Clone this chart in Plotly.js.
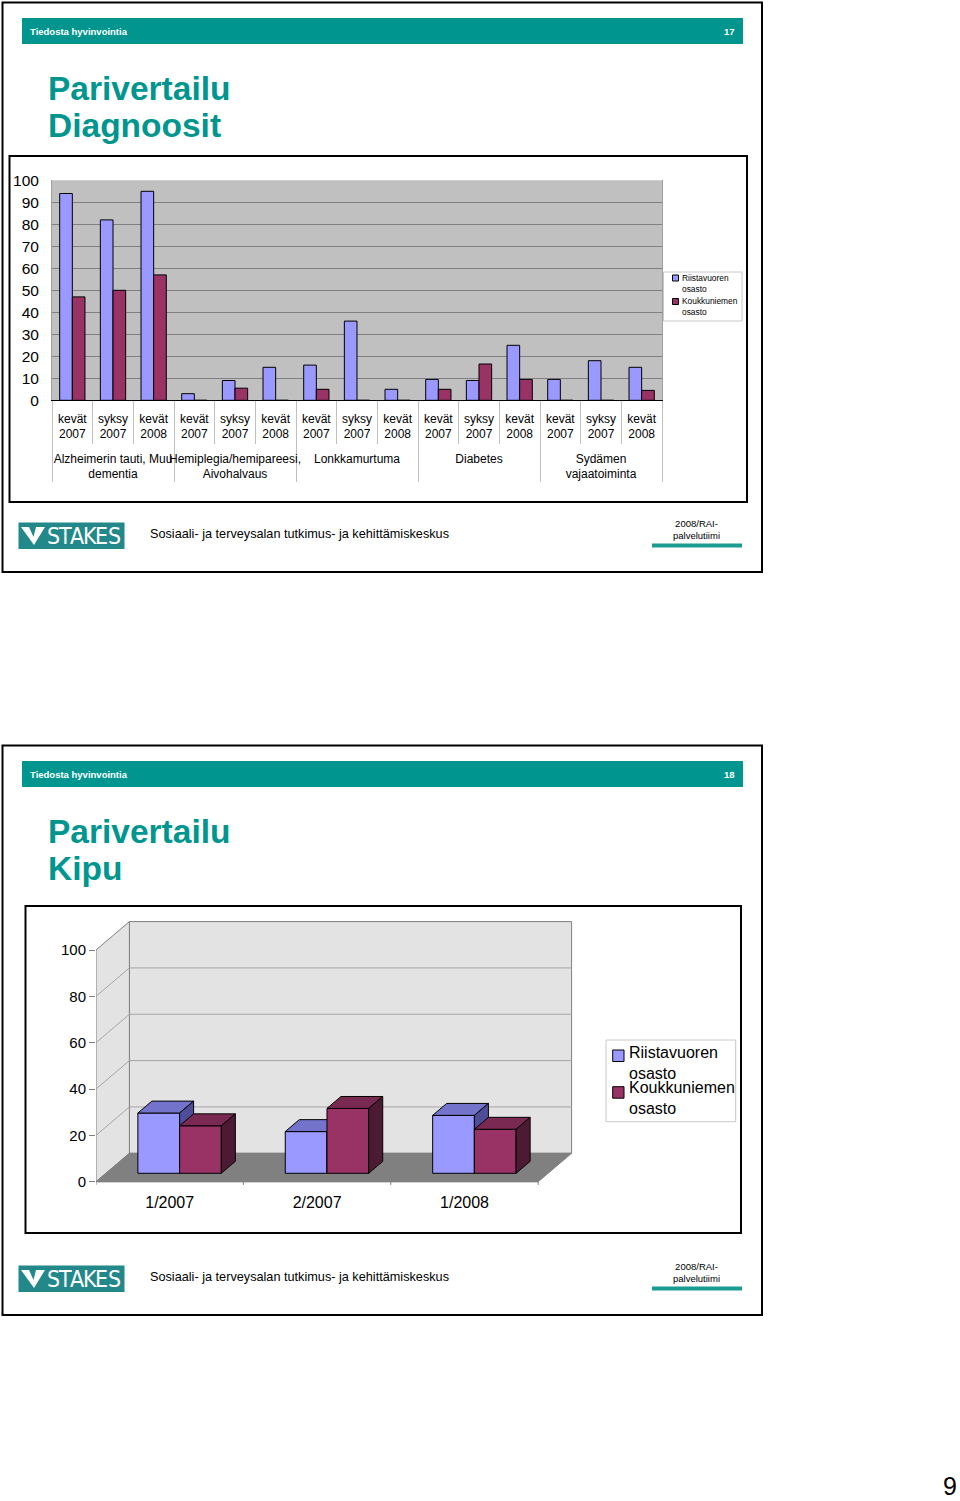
<!DOCTYPE html>
<html><head><meta charset="utf-8">
<script src="https://cdn.plot.ly/plotly-3.0.1.min.js"></script>
<style>html,body{margin:0;padding:0;background:#fff}#chart{width:960px;height:1501px}</style>
</head><body><div id="chart"></div>
<script>
// ---------- data ----------
const diagnoses = ["Alzheimerin tauti, Muu<br>dementia", "Hemiplegia/hemipareesi,<br>Aivohalvaus", "Lonkkamurtuma", "Diabetes", "Sydämen<br>vajaatoiminta"];
const periods = ["kevät<br>2007", "syksy<br>2007", "kevät<br>2008"];
const riistavuoriDiag = [94, 82, 95, 3, 9, 15, 16, 36, 5, 9.5, 9, 25, 9.5, 18, 15];
const koukkuniemiDiag = [47, 50, 57, 0, 5.5, 0, 5, 0, 0, 5, 16.5, 9.5, 0, 0, 4.5];
const painPeriods = ["1/2007", "2/2007", "1/2008"];
const riistavuoriPain = [26, 18, 25];
const koukkuniemiPain = [20.5, 28, 19];
const seriesNames = ["Riistavuoren osasto", "Koukkuniemen osasto"];
const legendLabels = ["Riistavuoren<br>osasto", "Koukkuniemen<br>osasto"];
const yTicksPain = [0, 20, 40, 60, 80, 100];
const slideTitles = ["Diagnoosit", "Kipu"];
const slideNumbers = ["17", "18"];

// ---------- style ----------
const W = 960, H = 1501;
const FONT = '"Liberation Sans", Arial, Helvetica, sans-serif';
const TEAL = '#00968f';
const BLUE = '#9999ff', RED = '#993366';
const BLUE_TOP = '#7373cc', BLUE_SIDE = '#4d4d99', RED_TOP = '#7a2952', RED_SIDE = '#4d1a33';
const px = x => x / W, py = y => 1 - y / H;

const shapes = [], annotations = [];
function rect(x0, y0, x1, y1, fill, line, lw, layer) {
  shapes.push({type: 'rect', xref: 'paper', yref: 'paper', x0: px(x0), x1: px(x1), y0: py(y1), y1: py(y0),
    fillcolor: fill || 'rgba(0,0,0,0)', line: {color: line || 'rgba(0,0,0,0)', width: lw || 0}, layer: layer || 'below'});
}
function txt(x, y, text, size, o) {
  o = o || {};
  annotations.push({xref: 'paper', yref: 'paper', x: px(x), y: py(y), text: text, showarrow: false,
    xanchor: o.xanchor || 'left', yanchor: 'middle', align: o.align || 'left',
    font: {family: o.family || FONT, size: size, color: o.color || '#000', weight: o.weight || 'normal'}});
}

// ---------- slide decorations ----------
[0, 743].forEach((off, s) => {
  rect(2.5, 2.5 + off, 762, 572 + off, null, '#000', 2, 'above');
  rect(22, 18 + off, 743, 44 + off, TEAL);
  txt(28, 31.5 + off, 'Tiedosta hyvinvointia', 9.5, {color: '#fff', weight: 'bold'});
  txt(737, 31.5 + off, slideNumbers[s], 9.5, {color: '#fff', weight: 'bold', xanchor: 'right'});
  txt(45.5, 88.6 + off, 'Parivertailu', 33.5, {color: TEAL, weight: 'bold'});
  txt(45.5, 125.3 + off, slideTitles[s], 33.5, {color: TEAL, weight: 'bold'});
  // footer logo
  rect(18.5, 522.5 + off, 124.5, 549 + off, '#23888a');
  shapes.push({type: 'path', xref: 'paper', yref: 'paper', layer: 'below', fillcolor: '#fff', line: {width: 0},
    path: `M${px(21)},${py(527 + off)}L${px(45)},${py(527 + off)}L${px(34)},${py(545 + off)}Z`});
  shapes.push({type: 'path', xref: 'paper', yref: 'paper', layer: 'below', fillcolor: '#23888a', line: {width: 0},
    path: `M${px(29)},${py(527 + off)}L${px(36)},${py(527 + off)}L${px(33.5)},${py(537 + off)}Z`});
  'STAKES'.split('').forEach((ch, i) => {
    txt(53 + i * 12.2, 536 + off, ch, 23, {color: '#fff', xanchor: 'center', align: 'center', family: '"Liberation Sans Narrow", "DejaVu Sans Condensed", sans-serif'});
  });
  txt(147.5, 533.8 + off, 'Sosiaali- ja terveysalan tutkimus- ja kehittämiskeskus', 12.7);
  txt(696, 529.5 + off, '2008/RAI-<br>palvelutiimi', 9.5, {xanchor: 'center', align: 'center'});
  rect(652, 543.5 + off, 742, 547.5 + off, '#1a9c93');
});
txt(950, 1486, '9', 25, {xanchor: 'center', align: 'center'});

// ---------- chart 1 ----------
rect(9.5, 156, 747, 502, null, '#000', 2, 'above');
shapes.push({type: 'rect', xref: 'x domain', yref: 'y domain', x0: 0, x1: 1, y0: 0, y1: 1, fillcolor: '#c0c0c0', line: {width: 0}, layer: 'below'});
const groupLevel = [], periodLevel = [];
// a leading blank line pushes the group row below the period row as in the original
diagnoses.forEach(d => periods.forEach(p => { groupLevel.push('&nbsp;<br>' + d); periodLevel.push(p); }));

const traces = [
  {type: 'bar', name: seriesNames[0], x: [groupLevel, periodLevel], y: riistavuoriDiag, xaxis: 'x', yaxis: 'y',
    marker: {color: BLUE, line: {color: '#000', width: 1}}, showlegend: false, hoverinfo: 'y'},
  {type: 'bar', name: seriesNames[1], x: [groupLevel, periodLevel], y: koukkuniemiDiag, xaxis: 'x', yaxis: 'y',
    marker: {color: RED, line: {color: '#000', width: 1}}, showlegend: false, hoverinfo: 'y'}
];
// legend 1 (manual)
rect(663.5, 272, 742, 321, '#fff', '#c8c8c8', 1, 'above');
rect(672.5, 275, 678.5, 281, BLUE, '#000', 1, 'above');
rect(672.5, 298.5, 678.5, 304.5, RED, '#000', 1, 'above');
txt(679.5, 283.2, legendLabels[0], 8.4);
txt(679.5, 306.6, legendLabels[1], 8.4);

// ---------- chart 2 (3-D look) ----------
rect(25.5, 906, 741, 1233, null, '#000', 2, 'above');
const DX = 0.2266, DY = 12.26;      // full floor depth in axis units
const D0 = 0.296, DD = 0.42;        // bar depth start and depth size (fractions)
const BW = 0.283;                   // bar width in category units
const nCat = painPeriods.length;
const xL = -0.5, xR = nCat - 0.5;
function ax2(o) { return Object.assign({xref: 'x2', yref: 'y2', layer: 'below'}, o); }
shapes.push(ax2({type: 'rect', x0: xL + DX, x1: xR + DX, y0: DY, y1: 100 + DY, fillcolor: '#e3e3e3', line: {color: '#808080', width: 1}}));
shapes.push(ax2({type: 'path', path: `M${xL},0L${xL},100L${xL + DX},${100 + DY}L${xL + DX},${DY}Z`, fillcolor: '#e3e3e3', line: {color: '#808080', width: 1}}));
yTicksPain.slice(1, -1).forEach(v => {
  shapes.push(ax2({type: 'line', x0: xL + DX, x1: xR + DX, y0: v + DY, y1: v + DY, line: {color: '#a6a6a6', width: 1}}));
  shapes.push(ax2({type: 'line', x0: xL, x1: xL + DX, y0: v, y1: v + DY, line: {color: '#a6a6a6', width: 1}}));
});
shapes.push(ax2({type: 'path', path: `M${xL},0L${xR},0L${xR + DX},${DY}L${xL + DX},${DY}Z`, fillcolor: '#808080', line: {color: '#808080', width: 1}}));
shapes.push(ax2({type: 'line', x0: xL, x1: xR, y0: 0, y1: 0, line: {color: '#808080', width: 1}}));
for (let b = 0; b <= nCat; b++) {
  shapes.push(ax2({type: 'line', x0: xL + b, x1: xL + b, y0: 0, y1: -1.4, line: {color: '#808080', width: 1}}));
}

function bars3d(values, leftSide, color, topColor, sideColor, xa, ya, name) {
  const base = D0 * DY, dx = DD * DX, dy = DD * DY;
  const lefts = values.map((v, i) => i + D0 * DX + (leftSide ? -BW : 0));
  const top = {x: [], y: []}, side = {x: [], y: []};
  values.forEach((v, i) => {
    const xl = lefts[i], xr = xl + BW, h = base + v;
    top.x.push(xl, xr, xr + dx, xl + dx, xl, null); top.y.push(h, h, h + dy, h + dy, h, null);
    side.x.push(xr, xr, xr + dx, xr + dx, xr, null); side.y.push(base, h, h + dy, base + dy, base, null);
  });
  const common = {xaxis: xa, yaxis: ya, showlegend: false, hoverinfo: 'skip'};
  traces.push(Object.assign({type: 'bar', name: name, x: lefts, y: values, base: base, width: BW, offset: 0,
    marker: {color: color, line: {color: '#000', width: 1}}}, common, {hoverinfo: 'y'}));
  traces.push(Object.assign({type: 'scatter', mode: 'lines', x: top.x, y: top.y, fill: 'toself', fillcolor: topColor,
    line: {color: '#000', width: 1}}, common));
  traces.push(Object.assign({type: 'scatter', mode: 'lines', x: side.x, y: side.y, fill: 'toself', fillcolor: sideColor,
    line: {color: '#000', width: 1}}, common));
}
bars3d(riistavuoriPain, true, BLUE, BLUE_TOP, BLUE_SIDE, 'x2', 'y2', seriesNames[0]);
bars3d(koukkuniemiPain, false, RED, RED_TOP, RED_SIDE, 'x3', 'y3', seriesNames[1]);

// legend 2 (manual)
rect(606, 1040, 735.7, 1121.7, '#fff', '#c8c8c8', 1, 'above');
rect(612.7, 1050, 624, 1061.5, BLUE, '#000', 1, 'above');
rect(612.7, 1086.7, 624, 1098.2, RED, '#000', 1, 'above');
txt(626.5, 1062.5, legendLabels[0], 16);
txt(626.5, 1098.3, legendLabels[1], 16);

const pxPerUnit = 2.317, zeroY = 1181.7;
const yRange2 = [-4, 115];
const xRange2 = [xL, 2.75];
const layout = {
  width: W, height: H, margin: {l: 0, r: 0, t: 0, b: 0},
  paper_bgcolor: '#fff', plot_bgcolor: 'rgba(0,0,0,0)',
  font: {family: FONT, color: '#000'},
  barmode: 'group', bargap: 0.378, bargroupgap: 0, showlegend: false,
  xaxis: {type: 'multicategory', domain: [px(52), px(662)], anchor: 'y', tickson: 'boundaries',
    ticks: 'outside', ticklen: 43, tickcolor: '#c0c0c0', tickwidth: 1,
    showdividers: true, dividercolor: '#c0c0c0', dividerwidth: 1,
    showline: true, linecolor: '#000', linewidth: 1, showgrid: false, tickangle: 0,
    ticklabelstandoff: 7, tickfont: {family: FONT, size: 12, color: '#000'}, fixedrange: true},
  yaxis: {domain: [py(400.3), py(180.3)], anchor: 'x', range: [0, 100], dtick: 10, tick0: 0,
    showgrid: true, gridcolor: '#808080', gridwidth: 1, zeroline: false, showline: true, mirror: true,
    linecolor: '#a0a0a0', ticks: '', ticklabelstandoff: 9, tickfont: {family: FONT, size: 15.5, color: '#000'}, fixedrange: true},
  xaxis2: {domain: [px(96), px(96 + 3.25 * 147.4)], anchor: 'y2', range: xRange2, tickvals: painPeriods.map((p, i) => i),
    ticktext: painPeriods, ticks: '', showgrid: false, zeroline: false, showline: false,
    tickfont: {family: FONT, size: 16, color: '#000'}, fixedrange: true},
  yaxis2: {domain: [py(zeroY - yRange2[0] * pxPerUnit), py(zeroY - yRange2[1] * pxPerUnit)], anchor: 'x2', range: yRange2,
    tickvals: yTicksPain, ticks: 'outside', ticklen: 6, tickcolor: '#808080', showgrid: false, zeroline: false, showline: false,
    tickfont: {family: FONT, size: 15, color: '#000'}, fixedrange: true},
  xaxis3: {overlaying: 'x2', anchor: 'y3', range: xRange2, visible: false, fixedrange: true},
  yaxis3: {overlaying: 'y2', anchor: 'x3', range: yRange2, visible: false, fixedrange: true},
  shapes: shapes, annotations: annotations
};
Plotly.newPlot('chart', traces, layout, {staticPlot: true, displayModeBar: false});
</script></body></html>
